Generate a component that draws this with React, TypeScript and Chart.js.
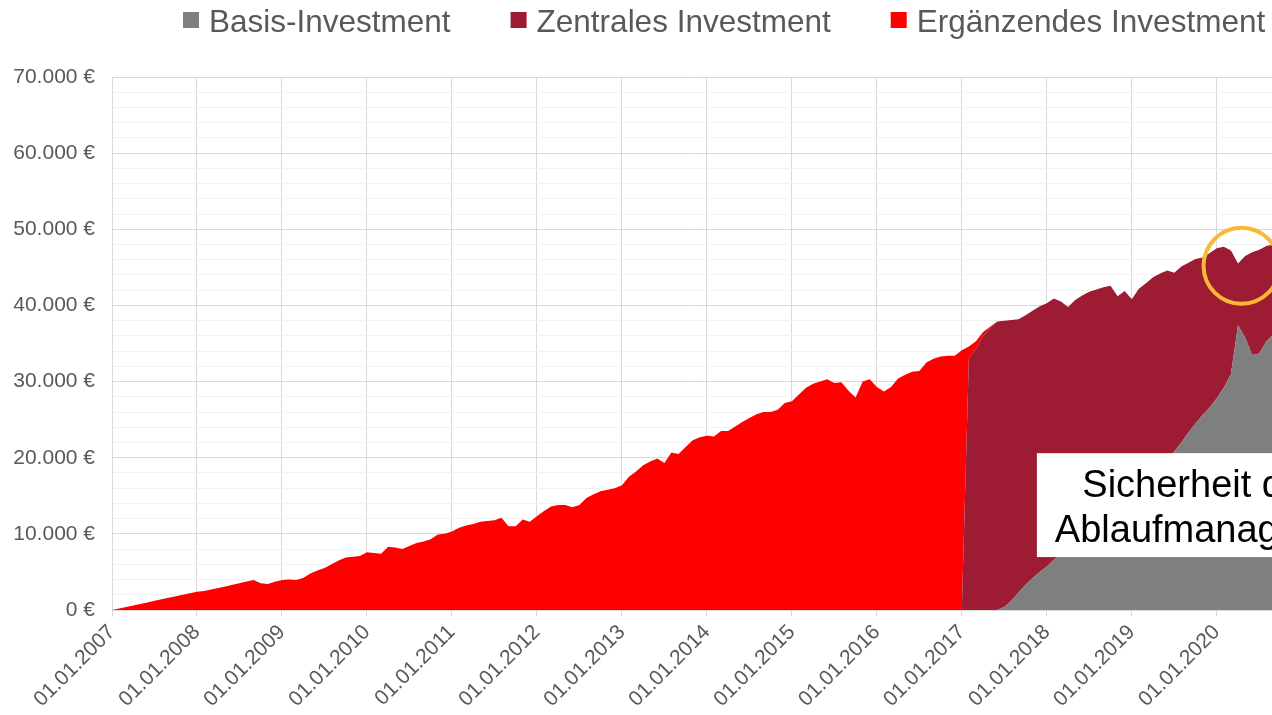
import React, { useEffect, useRef } from "react";
import { Chart, registerables } from "chart.js";

Chart.register(...registerables);

// ---- data (monthly values, Jan 2007 .. Sep 2020) ----
const years = [2007, 2008, 2009, 2010, 2011, 2012, 2013, 2014, 2015, 2016, 2017, 2018, 2019, 2020];
const seriesNames = ["Basis-Investment", "Zentrales Investment", "Ergänzendes Investment"];
const seriesColors = ["#7F7F7F", "#9E1B34", "#FF0000"];
const calloutLines = ["Sicherheit durch", "Ablaufmanagement"];

const basis = [
  0, 0, 0, 0, 0, 0, 0, 0, 0, 0, 0, 0,
  0, 0, 0, 0, 0, 0, 0, 0, 0, 0, 0, 0,
  0, 0, 0, 0, 0, 0, 0, 0, 0, 0, 0, 0,
  0, 0, 0, 0, 0, 0, 0, 0, 0, 0, 0, 0,
  0, 0, 0, 0, 0, 0, 0, 0, 0, 0, 0, 0,
  0, 0, 0, 0, 0, 0, 0, 0, 0, 0, 0, 0,
  0, 0, 0, 0, 0, 0, 0, 0, 0, 0, 0, 0,
  0, 0, 0, 0, 0, 0, 0, 0, 0, 0, 0, 0,
  0, 0, 0, 0, 0, 0, 0, 0, 0, 0, 0, 0,
  0, 0, 0, 0, 0, 0, 0, 0, 0, 0, 0, 0,
  0, 0, 0, 0, 0, 0, 400, 1200, 2300, 3300, 4200, 5000,
  5700, 6600, 7400, 8100, 8900, 9700, 10500, 11300, 12200, 13000, 13900, 14700,
  15500, 16300, 17200, 18000, 18900, 19800, 20800, 22000, 23300, 24500, 25600, 26600,
  27800, 29200, 31000, 37400, 35800, 33500, 33700, 35300, 36200,
];

const zentral = [
  0, 0, 0, 0, 0, 0, 0, 0, 0, 0, 0, 0,
  0, 0, 0, 0, 0, 0, 0, 0, 0, 0, 0, 0,
  0, 0, 0, 0, 0, 0, 0, 0, 0, 0, 0, 0,
  0, 0, 0, 0, 0, 0, 0, 0, 0, 0, 0, 0,
  0, 0, 0, 0, 0, 0, 0, 0, 0, 0, 0, 0,
  0, 0, 0, 0, 0, 0, 0, 0, 0, 0, 0, 0,
  0, 0, 0, 0, 0, 0, 0, 0, 0, 0, 0, 0,
  0, 0, 0, 0, 0, 0, 0, 0, 0, 0, 0, 0,
  0, 0, 0, 0, 0, 0, 0, 0, 0, 0, 0, 0,
  0, 0, 0, 0, 0, 0, 0, 0, 0, 0, 0, 0,
  0, 33100, 34300, 36000, 37000, 37900, 37600, 36900, 35900, 35400, 35100, 34900,
  34600, 34300, 33100, 31700, 31800, 31600, 31300, 30800, 30200, 29600, 27300, 27200,
  25300, 25900, 25700, 25700, 25300, 24800, 23500, 23100, 22300, 21600, 20700, 20300,
  19700, 18500, 16200, 8100, 10700, 13500, 13600, 12500, 11800,
];

const ergaenzend = [
  0, 200, 400, 600, 800, 1000, 1200, 1400, 1600, 1800, 2000, 2200,
  2400, 2500, 2700, 2900, 3100, 3300, 3500, 3750, 3950, 3500, 3400, 3700,
  3950, 4000, 3950, 4200, 4800, 5200, 5500, 6000, 6500, 6900, 7000, 7100,
  7600, 7500, 7400, 8300, 8200, 8000, 8400, 8800, 9000, 9300, 9900, 10000,
  10300, 10800, 11100, 11300, 11600, 11700, 11800, 12100, 11000, 11000, 11900, 11600,
  12300, 13000, 13600, 13800, 13800, 13500, 13800, 14700, 15200, 15600, 15800, 16000,
  16400, 17500, 18200, 19000, 19500, 19900, 19300, 20700, 20500, 21400, 22300, 22700,
  22900, 22800, 23500, 23500, 24100, 24700, 25200, 25700, 26000, 26000, 26300, 27200,
  27400, 28300, 29200, 29700, 30000, 30300, 29800, 29900, 28800, 27900, 30000, 30300,
  29300, 28700, 29300, 30400, 30900, 31300, 31400, 32500, 33000, 33300, 33400, 33400,
  34100, 1500, 1000, 500, 200, 0, 0, 0, 0, 0, 0, 0,
  0, 0, 0, 0, 0, 0, 0, 0, 0, 0, 0, 0,
  0, 0, 0, 0, 0, 0, 0, 0, 0, 0, 0, 0,
  0, 0, 0, 0, 0, 0, 0, 0, 0,
];

const FONT = '"Liberation Sans", Arial, sans-serif';
const TEXT_COLOR = "#595959";

const fmtEuro = (v: number) =>
  String(Math.round(v)).replace(/\B(?=(\d{3})+(?!\d))/g, ".") + " €";

const overlayPlugin = {
  id: "overlay",
  afterDraw(chart: any) {
    const ctx = chart.ctx as CanvasRenderingContext2D;
    const xs = chart.scales.x;
    const ys = chart.scales.y;
    ctx.save();

    // legend
    ctx.font = `31.5px ${FONT}`;
    ctx.textBaseline = "alphabetic";
    ctx.textAlign = "left";
    let lx = 183;
    seriesNames.forEach((name, i) => {
      ctx.fillStyle = seriesColors[i];
      ctx.fillRect(lx, 12, 16, 16);
      ctx.fillStyle = TEXT_COLOR;
      ctx.fillText(name, lx + 26, 31.5);
      lx += 26 + ctx.measureText(name).width + 60;
    });

    // callout box
    const bx = xs.getPixelForValue(130.6);
    const by = ys.getPixelForValue(20600);
    const bb = ys.getPixelForValue(6950);
    ctx.fillStyle = "#FFFFFF";
    ctx.fillRect(bx, by, chart.width - bx + 200, bb - by);
    ctx.fillStyle = "#000000";
    ctx.font = `38px ${FONT}`;
    ctx.textAlign = "center";
    const cx = xs.getPixelForValue(156.4);
    ctx.fillText(calloutLines[0], cx, by + 44);
    ctx.fillText(calloutLines[1], cx, by + 89);

    // highlight circle
    ctx.beginPath();
    ctx.arc(xs.getPixelForValue(159.5), ys.getPixelForValue(45200), 38, 0, Math.PI * 2);
    ctx.strokeStyle = "#F9B933";
    ctx.lineWidth = 4;
    ctx.stroke();

    ctx.restore();
  },
};

export default function App() {
  const ref = useRef<HTMLCanvasElement | null>(null);

  useEffect(() => {
    if (!ref.current) return;
    const toPts = (arr: number[]) => arr.map((v, i) => ({ x: i, y: v }));
    const series = [basis, zentral, ergaenzend];
    const chart = new Chart(ref.current, {
      type: "line",
      data: {
        datasets: series.map((s, i) => ({
          label: seriesNames[i],
          data: toPts(s),
          backgroundColor: seriesColors[i],
          borderColor: "rgba(0,0,0,0)",
          borderWidth: 0,
          pointRadius: 0,
          tension: 0,
          fill: i === 0 ? "origin" : "-1",
        })),
      },
      options: {
        animation: false,
        responsive: true,
        maintainAspectRatio: false,
        layout: { padding: { top: 77, left: 0, right: 0, bottom: 0 } },
        plugins: { legend: { display: false }, tooltip: { enabled: false } },
        scales: {
          x: {
            type: "linear",
            min: 0,
            max: 163.8,
            afterBuildTicks: (s: any) => {
              s.ticks = years.map((y) => ({ value: (y - years[0]) * 12 }));
            },
            afterFit: (s: any) => {
              s.height = 105;
            },
            grid: { color: "#D9D9D9", tickLength: 6 },
            border: { color: "#D9D9D9" },
            ticks: {
              autoSkip: false,
              minRotation: 45,
              maxRotation: 45,
              padding: 4,
              color: TEXT_COLOR,
              font: { size: 21, family: FONT },
              callback: (_v: any, idx: number) => `01.01.${years[idx]}`,
            },
          },
          y: {
            stacked: true,
            min: 0,
            max: 70000,
            afterFit: (s: any) => {
              s.width = 112;
            },
            grid: {
              drawTicks: false,
              color: (c: any) => (c.tick && c.tick.value % 10000 === 0 ? "#D9D9D9" : "#F2F2F2"),
            },
            border: { color: "#D9D9D9" },
            ticks: {
              stepSize: 2000,
              autoSkip: false,
              padding: 17,
              color: TEXT_COLOR,
              font: { size: 21, family: FONT },
              callback: (v: any) => (Number(v) % 10000 === 0 ? fmtEuro(Number(v)) : ""),
            },
          },
        },
      },
      plugins: [overlayPlugin],
    });
    return () => chart.destroy();
  }, []);

  return (
    <div style={{ position: "fixed", left: 0, top: 0, width: 1272, height: 715, background: "#fff" }}>
      <canvas ref={ref} />
    </div>
  );
}
